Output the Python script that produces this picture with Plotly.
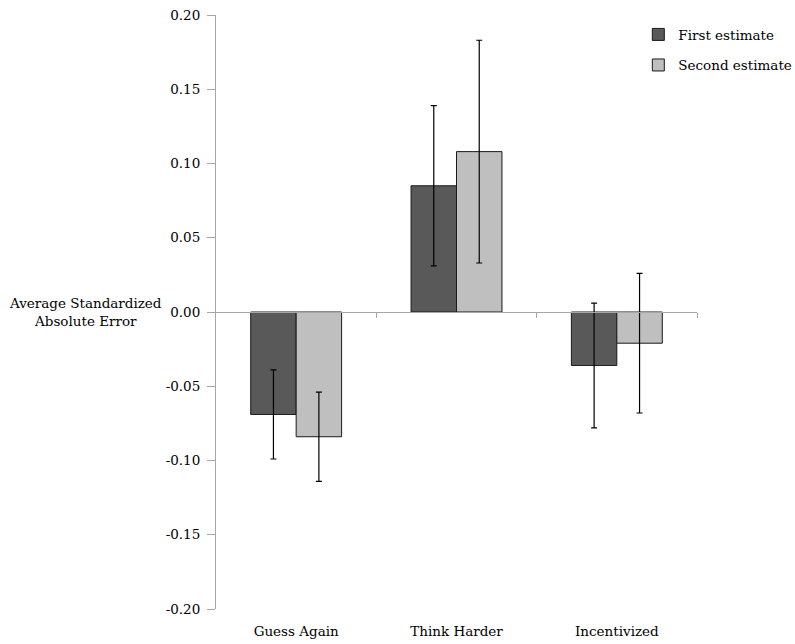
import plotly.graph_objects as go

# Conditions on the category axis
conditions = ["Guess Again", "Think Harder", "Incentivized"]

# Mean standardized absolute error per condition
first_estimate = [-0.069, 0.085, -0.036]
second_estimate = [-0.084, 0.108, -0.021]

# Error bar half-lengths
first_err = [0.030, 0.054, 0.042]
second_err = [0.030, 0.075, 0.047]

# Y axis ticks
y_tick_vals = [-0.20, -0.15, -0.10, -0.05, 0.00, 0.05, 0.10, 0.15, 0.20]
y_tick_text = ["-0.20", "-0.15", "-0.10", "-0.05", "0.00", "0.05", "0.10", "0.15", "0.20"]

# Separators between conditions along the zero baseline
separators = [0.5, 1.5, 2.5]

FONT = "DejaVu Serif"
FS = 13.5
AXIS_GRAY = "#a6a6a6"
TEXT = dict(family=FONT, size=FS, color="black")

err_style = dict(type="data", visible=True, color="black", thickness=1.2, width=3)

fig = go.Figure()
fig.add_trace(go.Bar(
    name="First estimate", x=conditions, y=first_estimate,
    marker=dict(color="#595959", line=dict(color="#1a1a1a", width=1)),
    error_y=dict(array=first_err, **err_style),
    legendgroup="a",
))
fig.add_trace(go.Bar(
    name="Second estimate", x=conditions, y=second_estimate,
    marker=dict(color="#bfbfbf", line=dict(color="#1a1a1a", width=1)),
    error_y=dict(array=second_err, **err_style),
    legendgroup="b",
))
# Invisible helper so the baseline axis is rendered
fig.add_trace(go.Scatter(
    x=separators, y=[0] * len(separators), xaxis="x2", yaxis="y",
    mode="none", hoverinfo="skip", showlegend=False,
))

fig.update_layout(
    width=795, height=644,
    margin=dict(l=216, r=98, t=15, b=35, autoexpand=False),
    paper_bgcolor="white", plot_bgcolor="white",
    font=TEXT,
    barmode="group", bargap=0.433, bargroupgap=0,
    showlegend=True,
    legend=dict(
        x=0.878, y=0.993, xanchor="left", yanchor="top",
        traceorder="grouped", tracegroupgap=10,
        font=TEXT, bgcolor="rgba(0,0,0,0)", itemwidth=30,
    ),
    xaxis=dict(
        type="category", range=[-0.5, 2.5],
        showline=False, ticks="", showgrid=False, zeroline=False,
        tickfont=TEXT, ticklabelstandoff=12, automargin=False,
    ),
    # Horizontal baseline at zero with marks between conditions
    xaxis2=dict(
        overlaying="x", anchor="free", position=0.5, range=[-0.5, 2.5],
        showline=True, linecolor=AXIS_GRAY, linewidth=1,
        ticks="outside", ticklen=5, tickcolor=AXIS_GRAY,
        tickvals=separators, showticklabels=False,
        showgrid=False, zeroline=False, automargin=False,
    ),
    yaxis=dict(
        range=[-0.20, 0.20], tickvals=y_tick_vals, ticktext=y_tick_text,
        showline=True, linecolor=AXIS_GRAY, linewidth=1,
        ticks="outside", ticklen=8, tickcolor=AXIS_GRAY,
        showgrid=False, zeroline=False, automargin=False,
        tickfont=TEXT, ticklabelstandoff=4,
    ),
    annotations=[dict(
        text="Average Standardized<br>Absolute Error",
        xref="paper", yref="paper", x=-0.272, y=0.5,
        xanchor="center", yanchor="middle", showarrow=False,
        font=TEXT, align="center",
    )],
)

fig.write_html("out.html")
